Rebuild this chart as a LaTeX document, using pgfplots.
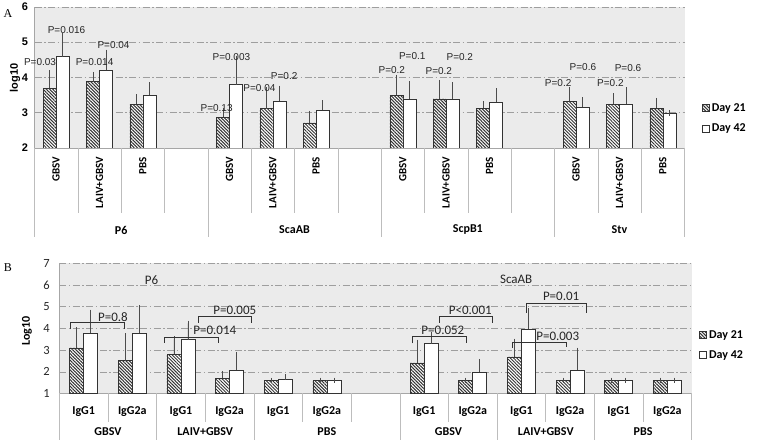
\documentclass[border=0pt]{standalone}
\usepackage{fontspec}
\setmainfont{Carlito}
\newfontfamily\arialf{Liberation Sans}
\newfontfamily\timesf{Liberation Serif}
\usepackage{pgfplots}
\usepackage{pgfplotstable}
\pgfplotsset{compat=1.18}
\usetikzlibrary{patterns.meta}

\definecolor{bgc}{HTML}{EBEBEB}
\definecolor{sepc}{HTML}{BDBDBD}
\definecolor{gridc}{HTML}{9E9E9E}

% x = slot index, d21/d42 = mean (log10), e21/e42 = upper error
\pgfplotstableread{
x d21 e21 d42 e42
0 3.69 0.43 4.59 0.59
1 3.88 0.20 4.20 0.51
2 3.24 0.20 3.49 0.30
4 2.87 0.18 3.80 0.74
5 3.12 0.52 3.32 0.37
6 2.71 0.27 3.07 0.20
8 3.50 0.50 3.39 0.42
9 3.39 0.46 3.39 0.40
10 3.13 0.13 3.30 0.31
12 3.32 0.32 3.16 0.20
13 3.24 0.24 3.24 0.41
14 3.13 0.21 2.99 0.00
}\dataA

\pgfplotstableread{
x d21 e21 d42 e42
0 3.10 0.83 3.79 0.95
1 2.51 1.14 3.79 1.14
2 2.81 0.70 3.48 0.75
3 1.70 0.21 2.08 0.70
4 1.59 0.00 1.65 0.11
5 1.60 0.00 1.60 0.00
7 2.41 0.94 3.30 0.41
8 1.60 0.00 1.97 0.50
9 2.69 0.71 3.98 0.83
10 1.60 0.00 2.08 0.90
11 1.60 0.00 1.60 0.00
12 1.60 0.00 1.60 0.00
}\dataB

\tikzset{
  d21bar/.style={draw=black!80, line width=0.6bp, fill=white,
    postaction={pattern={Lines[angle=-45,distance=2.3bp,line width=1bp]}, pattern color=black!80}},
  d42bar/.style={draw=black!80, line width=0.6bp, fill=white},
}
\pgfplotsset{
  sqlegend/.style={legend image code/.code={\draw[##1] (0bp,-3.5bp) rectangle (7bp,3.5bp);}},
  myerr/.style={error bars/.cd, y dir=plus, y explicit,
    error bar style={black!70, line width=0.6bp},
    error mark options={black!70, line width=0.6bp, mark size=2.8bp}},
  mybase/.style={
    scale only axis, clip mode=individual,
    axis background/.style={fill=bgc},
    axis x line*=bottom, axis y line*=left,
    axis line style={black!35, line width=0.6bp},
    xtick=\empty, tick style={draw=none}, major tick length=0pt,
    ymajorgrids, grid style={gridc, line width=0.5bp, dash pattern=on 7bp off 2.5bp on 1.5bp off 2.5bp},
    /pgf/number format/assume math mode=true,
    legend style={draw=none, fill=none, inner sep=0pt, row sep=7bp,
      font=\bfseries\fontsize{12bp}{14bp}\selectfont, anchor=west},
    legend cell align=left,
  },
}

\begin{document}
\begin{tikzpicture}
\useasboundingbox (0bp,0bp) rectangle (763bp,443bp);

% ---------------- Panel A ----------------
\begin{axis}[mybase, at={(34.5bp,295bp)}, anchor=south west,
  width=650bp, height=141bp,
  xmin=-0.5, xmax=14.5, ymin=2, ymax=6, ytick={2,3,4,5,6},
  ybar=0pt, bar width=13bp,
  yticklabel style={font=\arialf\bfseries\fontsize{11bp}{13bp}\selectfont, xshift=-3bp},
  legend style={at={(1.027,0.21)}},
]
\addplot[d21bar, sqlegend, myerr] table[x=x, y=d21, y error=e21] {\dataA};
\addplot[d42bar, sqlegend, myerr] table[x=x, y=d42, y error=e42] {\dataA};
\legend{Day 21, Day 42}
\begin{scope}[font=\arialf\fontsize{10bp}{12bp}\selectfont, text=black!85]
\node at (axis cs:-0.373,4.445) {P=0.03};
\node at (axis cs:0.239,5.343) {P=0.016};
\node at (axis cs:0.886,4.445) {P=0.014};
\node at (axis cs:1.324,4.918) {P=0.04};
\node at (axis cs:3.703,3.125) {P=0.13};
\node at (axis cs:4.043,4.586) {P=0.003};
\node at (axis cs:4.69,3.708) {P=0.04};
\node at (axis cs:5.262,4.04) {P=0.2};
\node at (axis cs:7.745,4.21) {P=0.2};
\node at (axis cs:8.218,4.606) {P=0.1};
\node at (axis cs:8.83,4.18) {P=0.2};
\node at (axis cs:9.315,4.57) {P=0.2};
\node at (axis cs:11.585,3.85) {P=0.2};
\node at (axis cs:12.156,4.286) {P=0.6};
\node at (axis cs:12.79,3.833) {P=0.2};
\node at (axis cs:13.195,4.275) {P=0.6};
\end{scope}
\end{axis}

% category axis of panel A
\foreach \k in {1,2,3,5,6,7,9,10,11,13,14}
  \draw[sepc, line width=0.6bp] ({34.5bp+43.333bp*\k},295bp) -- ({34.5bp+43.333bp*\k},230bp);
\foreach \k in {0,4,8,12,15}
  \draw[sepc, line width=0.6bp] ({34.5bp+43.333bp*\k},295bp) -- ({34.5bp+43.333bp*\k},206bp);
\foreach \i/\t in {0/GBSV,1/LAIV+GBSV,2/PBS,4/GBSV,5/LAIV+GBSV,6/PBS,8/GBSV,9/LAIV+GBSV,10/PBS,12/GBSV,13/LAIV+GBSV,14/PBS}
  \node[rotate=90, anchor=east, inner sep=0pt, font=\bfseries\fontsize{11bp}{13bp}\selectfont] at ({34.5bp+43.333bp*(\i+0.5)},286bp) {\t};
\foreach \c/\t in {2/P6,6/ScaAB,10/ScpB1,13.5/Stv}
  \node[font=\bfseries\fontsize{12bp}{14bp}\selectfont] at ({34.5bp+43.333bp*\c},213bp) {\t};
\node[rotate=90, font=\arialf\bfseries\fontsize{11bp}{13bp}\selectfont] at (15bp,365bp) {log10};
\node[font=\timesf\fontsize{12bp}{14bp}\selectfont] at (8bp,429bp) {A};

% ---------------- Panel B ----------------
\begin{axis}[mybase, at={(59.3bp,49.5bp)}, anchor=south west,
  width=632.4bp, height=130.2bp,
  xmin=-0.5, xmax=12.5, ymin=1, ymax=7, ytick={1,2,3,4,5,6,7},
  ybar=0pt, bar width=14bp,
  yticklabel style={font=\fontsize{12.5bp}{14bp}\selectfont, text=black!85, xshift=-6bp},
  legend style={at={(1.012,0.3725)}},
]
\addplot[d21bar, sqlegend, myerr] table[x=x, y=d21, y error=e21] {\dataB};
\addplot[d42bar, sqlegend, myerr] table[x=x, y=d42, y error=e42] {\dataB};
\legend{Day 21, Day 42}
\begin{scope}[font=\fontsize{13bp}{15bp}\selectfont, text=black!85]
\node at (axis cs:1.397,6.23) {P6};
\node at (axis cs:8.892,6.26) {ScaAB};
\node at (axis cs:0.603,4.54) {P=0.8};
\node at (axis cs:2.697,3.93) {P=0.014};
\node at (axis cs:3.108,4.85) {P=0.005};
\node at (axis cs:7.385,3.93) {P=0.052};
\node at (axis cs:7.948,4.85) {P<0.001};
\node at (axis cs:9.746,3.62) {P=0.003};
\node at (axis cs:9.816,5.46) {P=0.01};
\end{scope}
\begin{scope}[black!80, line width=0.7bp]
\draw (axis cs:-0.28,3.97) -- (axis cs:-0.28,4.26) -- (axis cs:0.83,4.26) -- (axis cs:0.83,3.97);
\draw (axis cs:1.656,3.34) -- (axis cs:1.656,3.59) -- (axis cs:2.765,3.59) -- (axis cs:2.765,3.34);
\draw (axis cs:2.354,4.26) -- (axis cs:2.354,4.54) -- (axis cs:3.451,4.54) -- (axis cs:3.451,4.26);
\draw (axis cs:6.748,3.31) -- (axis cs:6.748,3.62) -- (axis cs:7.865,3.62) -- (axis cs:7.865,3.31);
\draw (axis cs:7.303,4.26) -- (axis cs:7.303,4.54) -- (axis cs:8.412,4.54) -- (axis cs:8.412,4.26);
\draw (axis cs:8.822,3.10) -- (axis cs:8.822,3.34) -- (axis cs:9.919,3.34) -- (axis cs:9.919,3.16);
\draw (axis cs:9.098,4.72) -- (axis cs:9.098,5.16) -- (axis cs:10.33,5.16) -- (axis cs:10.33,4.72);
\end{scope}
\end{axis}

% category axis of panel B
\foreach \k in {1,3,5,6,8,10,12}
  \draw[sepc, line width=0.6bp] ({59.3bp+48.646bp*\k},49.5bp) -- ({59.3bp+48.646bp*\k},21.3bp);
\foreach \k in {0,2,4,7,9,11,13}
  \draw[sepc, line width=0.6bp] ({59.3bp+48.646bp*\k},49.5bp) -- ({59.3bp+48.646bp*\k},3bp);
\foreach \i/\t in {0/IgG1,1/IgG2a,2/IgG1,3/IgG2a,4/IgG1,5/IgG2a,7/IgG1,8/IgG2a,9/IgG1,10/IgG2a,11/IgG1,12/IgG2a}
  \node[font=\bfseries\fontsize{12bp}{14bp}\selectfont] at ({59.3bp+48.646bp*(\i+0.5)},31.3bp) {\t};
\foreach \c/\t in {1/GBSV,3/LAIV+GBSV,5.5/PBS,8/GBSV,10/LAIV+GBSV,12/PBS}
  \node[font=\bfseries\fontsize{12bp}{14bp}\selectfont] at ({59.3bp+48.646bp*\c},11.3bp) {\t};
\node[rotate=90, font=\bfseries\fontsize{12bp}{14bp}\selectfont] at (27bp,112bp) {Log10};
\node[font=\timesf\fontsize{12bp}{14bp}\selectfont] at (8bp,175bp) {B};
\end{tikzpicture}
\end{document}
